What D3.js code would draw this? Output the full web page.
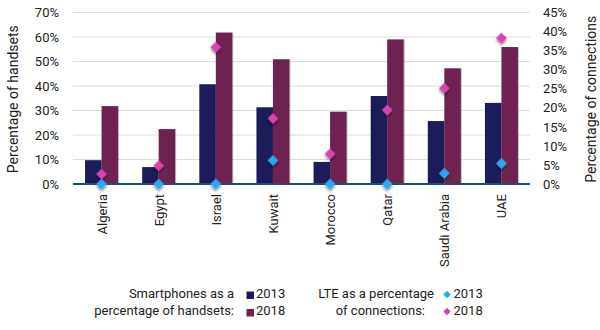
<!DOCTYPE html>
<html>
<head>
<meta charset="utf-8">
<script src="https://cdn.jsdelivr.net/npm/d3@7"></script>
<style>
  html, body { margin: 0; padding: 0; background: #fff; }
  svg { display: block; font-family: Roboto, "DejaVu Sans", sans-serif; }
</style>
</head>
<body>
<svg id="chart" width="600" height="330"></svg>
<script>
// Countries along the x axis
const countries = ["Algeria", "Egypt", "Israel", "Kuwait", "Morocco", "Qatar", "Saudi Arabia", "UAE"];
// Smartphones as a percentage of handsets (left axis)
const smart2013 = [9.7, 6.9, 40.7, 31.3, 9.0, 35.9, 25.7, 33.1];
const smart2018 = [31.8, 22.4, 61.8, 50.9, 29.5, 59.0, 47.2, 55.9];
// LTE as a percentage of connections (right axis)
const lte2013 = [0, 0, 0, 6.2, 0, 0, 2.8, 5.4];
const lte2018 = [2.6, 4.8, 35.9, 17.2, 7.9, 19.4, 25.1, 38.3];
// Axis ticks
const leftTicks = [0, 10, 20, 30, 40, 50, 60, 70];
const rightTicks = [0, 5, 10, 15, 20, 25, 30, 35, 40, 45];

const colors = { s13: "#1c1a5a", s18: "#6e2350", l13: "#29a8f0", l18: "#d844ad", axis: "#1d4e6c", grid: "#dedede", text: "#222" };

const svg = d3.select("#chart");
const m = { left: 73, right: 530, top: 12.5, bottom: 184 };

const x = d3.scaleBand().domain(countries).range([m.left, m.right]).paddingInner(0).paddingOuter(0);
const yL = d3.scaleLinear().domain([0, 70]).range([m.bottom, m.top]);
const yR = d3.scaleLinear().domain([0, 45]).range([m.bottom, m.top]);

const defs = svg.append("defs");
const shadow = defs.append("filter").attr("id", "shadow").attr("x", "-50%").attr("y", "-50%").attr("width", "200%").attr("height", "200%");
shadow.append("feDropShadow").attr("dx", 1.5).attr("dy", 1.5).attr("stdDeviation", 1).attr("flood-color", "#000").attr("flood-opacity", 0.45);
const barShadow = defs.append("filter").attr("id", "barShadow").attr("x", "-20%").attr("y", "-10%").attr("width", "140%").attr("height", "120%");
barShadow.append("feDropShadow").attr("dx", 1).attr("dy", 0).attr("stdDeviation", 0.6).attr("flood-color", "#000").attr("flood-opacity", 0.25);

// Gridlines
svg.append("g").selectAll("line").data(leftTicks.filter(d => d > 0)).join("line")
  .attr("x1", m.left).attr("x2", m.right)
  .attr("y1", d => yL(d)).attr("y2", d => yL(d))
  .attr("stroke", colors.grid).attr("stroke-width", 1);

// Left axis
const leftAxis = svg.append("g").attr("transform", `translate(${m.left - 14},0)`)
  .call(d3.axisLeft(yL).tickValues(leftTicks).tickFormat(d => d + "%").tickSize(0).tickPadding(0));
leftAxis.select(".domain").remove();
leftAxis.selectAll("text").attr("font-size", 13).attr("fill", colors.text).attr("font-family", "Roboto, sans-serif");

// Right axis
const rightAxis = svg.append("g").attr("transform", `translate(${m.right + 13},0)`)
  .call(d3.axisRight(yR).tickValues(rightTicks).tickFormat(d => d + "%").tickSize(0).tickPadding(0));
rightAxis.select(".domain").remove();
rightAxis.selectAll("text").attr("font-size", 13).attr("fill", colors.text).attr("font-family", "Roboto, sans-serif");

// Axis titles
svg.append("text").attr("transform", `translate(18,${(m.top + m.bottom) / 2 + 1}) rotate(-90)`)
  .attr("text-anchor", "middle").attr("font-size", 14).attr("fill", colors.text).text("Percentage of handsets");
svg.append("text").attr("transform", `translate(596,${(m.top + m.bottom) / 2 + 1}) rotate(-90)`)
  .attr("text-anchor", "middle").attr("font-size", 14).attr("fill", colors.text).text("Percentage of connections");

// Bars
const barW = 16.5;
const bars = svg.append("g");
bars.selectAll("rect.s13").data(countries).join("rect").attr("class", "s13")
  .attr("x", d => x(d) + x.bandwidth() / 2 - barW)
  .attr("width", barW)
  .attr("y", (d, i) => yL(smart2013[i]))
  .attr("height", (d, i) => yL(0) - yL(smart2013[i]))
  .attr("fill", colors.s13).attr("filter", "url(#barShadow)");
bars.selectAll("rect.s18").data(countries).join("rect").attr("class", "s18")
  .attr("x", d => x(d) + x.bandwidth() / 2)
  .attr("width", barW)
  .attr("y", (d, i) => yL(smart2018[i]))
  .attr("height", (d, i) => yL(0) - yL(smart2018[i]))
  .attr("fill", colors.s18).attr("filter", "url(#barShadow)");

// Zero baseline
svg.append("line").attr("x1", m.left).attr("x2", m.right)
  .attr("y1", yL(0)).attr("y2", yL(0))
  .attr("stroke", colors.axis).attr("stroke-width", 2);

// LTE diamonds
const diamond = d3.symbol().type(d3.symbolSquare).size(58);
function drawDiamonds(vals, color) {
  svg.append("g").selectAll("path").data(countries).join("path")
    .attr("d", diamond)
    .attr("transform", (d, i) => `translate(${x(d) + x.bandwidth() / 2},${yR(vals[i])}) rotate(45)`)
    .attr("fill", color).attr("filter", "url(#shadow)");
}
drawDiamonds(lte2018, colors.l18);
drawDiamonds(lte2013, colors.l13);

// Category labels, rotated
svg.append("g").selectAll("text").data(countries).join("text")
  .attr("transform", d => `translate(${x(d) + x.bandwidth() / 2 + 5},194) rotate(-90)`)
  .attr("text-anchor", "end").attr("font-size", 13).attr("fill", colors.text).text(d => d);

// Legend
const lg = svg.append("g").attr("font-size", 13).attr("fill", colors.text);
lg.append("text").attr("x", 234).attr("y", 298).attr("text-anchor", "end").text("Smartphones as a");
lg.append("text").attr("x", 234).attr("y", 315).attr("text-anchor", "end").text("percentage of handsets:");
lg.append("rect").attr("x", 246.5).attr("y", 291.5).attr("width", 7.5).attr("height", 7.5).attr("fill", colors.s13);
lg.append("rect").attr("x", 246.5).attr("y", 309).attr("width", 7.5).attr("height", 7.5).attr("fill", colors.s18);
lg.append("text").attr("x", 256).attr("y", 298).text("2013");
lg.append("text").attr("x", 256).attr("y", 315).text("2018");

lg.append("text").attr("x", 434).attr("y", 298).attr("text-anchor", "end").text("LTE as a percentage");
lg.append("text").attr("x", 425).attr("y", 315).attr("text-anchor", "end").text("of connections:");
const legSym = d3.symbol().type(d3.symbolSquare).size(28);
lg.append("path").attr("d", legSym).attr("transform", "translate(447,294.5) rotate(45)").attr("fill", colors.l13);
lg.append("path").attr("d", legSym).attr("transform", "translate(447,311.5) rotate(45)").attr("fill", colors.l18);
lg.append("text").attr("x", 453.5).attr("y", 298).text("2013");
lg.append("text").attr("x", 453.5).attr("y", 315).text("2018");
</script>
</body>
</html>
